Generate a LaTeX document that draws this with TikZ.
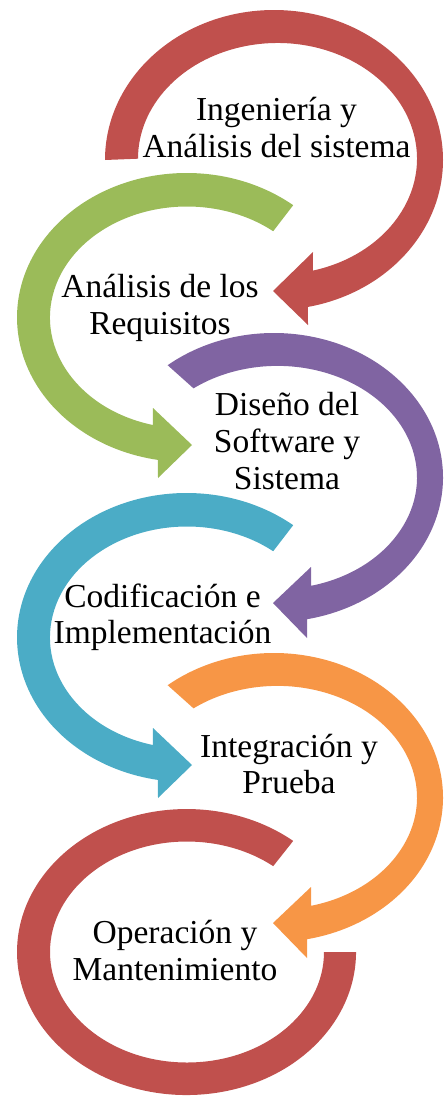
\documentclass[tikz,border=0pt]{standalone}
\usepackage{fontspec}
\setmainfont{Liberation Serif}
\definecolor{ringred}{HTML}{C0504D}
\definecolor{ringgreen}{HTML}{9BBB59}
\definecolor{ringpurple}{HTML}{8064A2}
\definecolor{ringteal}{HTML}{4BACC6}
\definecolor{ringorange}{HTML}{F79646}
\newcommand\evenringpath{(293.2,-205.2) arc[start angle=51,end angle=260.3,x radius=169.5,y radius=144.5] -- (158,-478) -- (192,-445) -- (153,-408) -- (152.9,-425) arc[start angle=255.6,end angle=51,x radius=137,y radius=111] -- cycle}
\newcommand\oddringpath{(167.65,-365.2) arc[start angle=129,end angle=-78.7,x radius=169,y radius=144.5] -- (307,-638) -- (273,-603) -- (311,-567) -- (311,-585.8) arc[start angle=-76.1,end angle=127,x radius=139.5,y radius=111.6] -- cycle}
\tikzset{
  lbl/.style={anchor=base, inner sep=0pt, text=black, font=\fontsize{33.5}{37}\selectfont}
}
\begin{document}
\begin{tikzpicture}[x=1pt,y=1pt]
\useasboundingbox (0,0) rectangle (444,-1096);
% ring 1 (red, top)
\fill[ringred] (105,-160) arc[start angle=180,end angle=-78.4,x radius=169,y radius=150] -- (308,-325) -- (273,-291) -- (313,-252) -- (312.9,-270.6) arc[start angle=-75.3,end angle=180,x radius=139.5,y radius=115.7] -- cycle;
% ring 2 (green)
\fill[ringgreen] \evenringpath;
% ring 3 (purple)
\fill[ringpurple] \oddringpath;
% ring 4 (teal)
\fill[ringteal, yshift=-320pt] \evenringpath;
% ring 5 (orange)
\fill[ringorange, yshift=-320pt] \oddringpath;
% ring 6 (red, bottom)
\fill[ringred] (293.2,-840.9) arc[start angle=51,end angle=360,x radius=169.5,y radius=143] -- (324,-952) arc[start angle=360,end angle=51,x radius=137,y radius=110.5] -- cycle;
% labels
\node[lbl] (t1a) at (276.5,-120) {Ingeniería y};
\node[lbl] (t1b) at (276.5,-157) {Análisis del sistema};
\node[lbl] (t2a) at (160,-297) {Análisis de los};
\node[lbl] (t2b) at (160,-334) {Requisitos};
\node[lbl] (t3a) at (287,-415) {Diseño del};
\node[lbl] (t3b) at (287,-452) {Software y};
\node[lbl] (t3c) at (287,-489) {Sistema};
\node[lbl] (t4a) at (162.5,-607) {Codificación e};
\node[lbl] (t4b) at (162.5,-643) {Implementación};
\node[lbl] (t5a) at (289,-757) {Integración y};
\node[lbl] (t5b) at (289,-793) {Prueba};
\node[lbl] (t6a) at (175,-943) {Operación y};
\node[lbl] (t6b) at (175,-980) {Mantenimiento};
\end{tikzpicture}
\end{document}
